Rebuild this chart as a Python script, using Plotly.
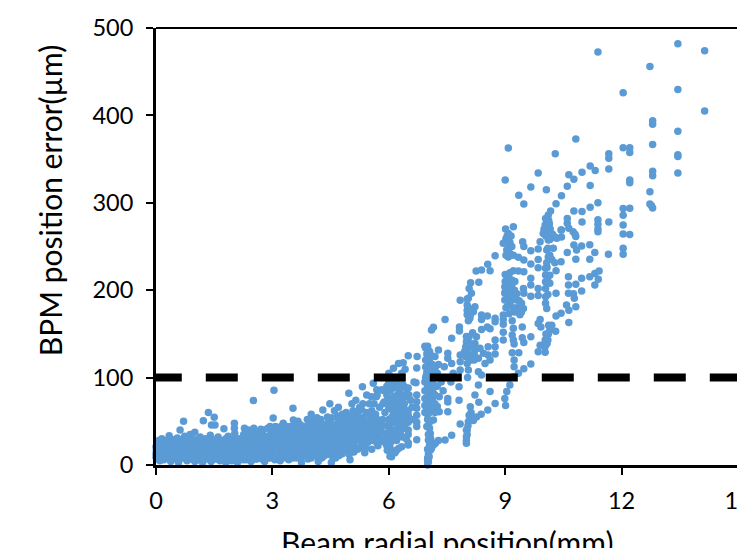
import plotly.graph_objects as go

# Values: (beam radial position mm, BPM position error um)
band_a = [(0.0,9),(0.0,13),(0.01,17),(0.0,21),(0.02,25),(0.05,7),(0.06,15),(0.07,28),(0.1,5),(0.1,11),(0.12,19),(0.13,24),(0.15,30),
(0.2,6),(0.22,13),(0.2,22),(0.25,28),(0.3,8),(0.28,17),(0.34,33.6),(0.33,25),(0.38,4),(0.4,12),(0.42,20),(0.45,29),(0.5,7),(0.52,16),(0.5,24),
(0.55,31),(0.58,3),(0.6,11),(0.62,40),(0.6,20),(0.65,27),(0.7,8),(0.71,50),(0.72,15),(0.74,33),(0.75,23),(0.8,5),(0.82,12),(0.8,28),(0.85,19),
(0.88,35),(0.9,7),(0.92,24),(0.95,14),(1.0,37.6),(1.0,4),(1.02,29),(1.04,10),(1.05,20),(1.1,6),(1.12,16),(1.14,32),(1.16,25),(1.22,50.7),(1.2,3),
(1.22,11),(1.25,20),(1.28,30),(1.35,60),(1.32,7),(1.34,15),(1.36,25),(1.4,34),(1.43,45.7),(1.42,4),(1.45,11),(1.47,19),(1.5,54.7),(1.5,28),
(1.52,45.7),(1.55,7),(1.56,15),(1.58,23),(1.6,32),(1.65,5),(1.66,12),(1.7,20),(1.72,28),(1.75,41.6),(1.78,8),(1.8,3),(1.82,16),(1.84,25),(1.86,33),
(1.9,11),(1.92,20),(1.95,5),(1.97,29),(2.0,14),(2.02,47.8),(2.02,42),(2.03,36),(2.05,7),(2.08,23),(2.1,3),(2.12,17),(2.15,30),(2.18,10)]
band_b = [(2.2,24),(2.24,6),(2.26,35),(2.3,15),(2.33,28),(2.36,8),(2.38,40),(2.4,21),(2.45,4),(2.46,32),(2.5,12),(2.51,73.9),(2.52,42),(2.55,25),
(2.6,7),(2.62,17),(2.65,36),(2.68,29),(2.7,41),(2.72,11),(2.75,21),(2.8,4),(2.82,33),(2.85,15),(2.88,42),(2.9,25),(2.93,8),(2.96,37),(3.0,18),
(3.02,53.8),(3.04,85.4),(3.03,30),(3.06,6),(3.08,44),(3.1,12),(3.14,24),(3.16,36),(3.2,5),(3.22,16),(3.25,45),(3.28,47.8),(3.3,28),(3.32,10),
(3.36,38),(3.4,20),(3.42,6),(3.45,32),(3.48,44),(3.53,65),(3.54,51.6),(3.5,14),(3.55,26),(3.6,38),(3.62,8),(3.66,50),(3.68,19),(3.72,31),(3.75,3),
(3.78,44),(3.8,13),(3.84,24),(3.88,36),(3.9,52),(3.92,7),(3.95,17),(4.0,58),(4.0,30),(4.03,44),(4.05,11),(4.08,22),(4.12,37),(4.15,54),(4.18,4),
(4.2,16),(4.23,29),(4.28,47),(4.3,63),(4.32,10),(4.35,22),(4.38,38),(4.42,55),(4.45,14),(4.48,70),(4.5,30),(4.52,3),(4.55,46),(4.58,19),(4.6,62),
(4.63,8),(4.66,36),(4.7,66),(4.72,24),(4.76,53),(4.8,13),(4.83,42),(4.87,30),(4.9,60),(4.92,18),(4.97,82),(4.96,48),(5.0,6),(5.02,26)]
band_c = [(5.05,70),(5.08,38),(5.1,15),(5.15,74),(5.14,55),(5.18,30),(5.22,44),(5.26,20),(5.3,63),(5.32,89.6),(5.34,36),(5.38,14),(5.43,80),
(5.42,50),(5.46,26),(5.5,70),(5.52,40),(5.56,18),(5.6,93.4),(5.6,55),(5.64,32),(5.68,46),(5.7,80),(5.72,22),(5.76,66),(5.8,40),(5.82,100),
(5.84,52),(5.86,27),(5.88,85),(5.9,60),(5.92,36),(5.94,23),(5.96,17),(5.95,45),(5.97,75),(6.0,105),(6.0,95),(6.0,70),(6.0,52),(6.02,30),(6.04,85),
(6.07,9.5),(6.06,40),(6.1,62),(6.12,110.6),(6.12,98),(6.14,78),(6.16,48),(6.2,17),(6.18,88),(6.22,34),(6.25,116),(6.24,68),(6.26,100),(6.28,55),
(6.3,80),(6.33,21),(6.34,42),(6.37,117),(6.36,92),(6.4,70),(6.42,109.5),(6.42,56),(6.45,30),(6.46,82),(6.5,125),(6.5,88),(6.52,80),(6.5,62),(6.5,57),
(6.5,49),(6.5,25.5),(6.56,74),(6.6,66),(6.62,52),(6.65,95),(6.7,94),(6.72,111),(6.73,124),(6.72,80),(6.72,72.5),(6.72,65),(6.72,57),(6.72,49),
(6.72,44),(6.72,29)]
band_d = [(0.03,11),(0.03,19),(0.04,27),(0.08,9),(0.09,17),(0.08,22),(0.14,8),(0.16,15),(0.17,26),(0.24,9),(0.25,18),(0.26,24),(0.3,12),(0.32,21),
(0.36,9),(0.37,15),(0.38,28),(0.44,8),(0.45,16),(0.46,23),(0.5,12),(0.54,20),(0.56,27),(0.6,7),(0.63,15),(0.66,23),(0.68,11),(0.7,30),(0.76,8),
(0.78,18),(0.8,22),(0.84,9),(0.86,14),(0.87,26),(0.9,31),(0.94,10),(0.96,19),(1.0,13),(1.0,24),(1.06,8),(1.07,15),(1.09,27),(1.12,11),(1.15,21),
(1.18,7),(1.2,15),(1.2,26),(1.26,11),(1.28,18),(1.3,24),(1.36,11),(1.38,19),(1.38,29),(1.42,15),(1.45,24),(1.48,7),(1.5,13),(1.52,20),(1.55,29),
(1.58,10),(1.6,17),(1.62,26),(1.68,8),(1.7,15),(1.72,24),(1.76,12),(1.78,19),(1.8,30),(1.82,7),(1.86,13),(1.88,20),(1.9,28),(1.94,9),(1.96,16),
(1.98,24),(2.02,11),(2.04,20),(2.06,28),(2.1,8),(2.12,13),(2.14,23),(2.18,18),(2.2,14),(2.22,30)]
band_e = [(2.25,11),(2.25,19),(2.3,24),(2.32,6),(2.35,33),(2.38,14),(2.42,27),(2.44,10),(2.47,18),(2.5,23),(2.53,36),(2.56,7),(2.58,15),(2.6,29),
(2.65,11),(2.66,23),(2.7,17),(2.72,33),(2.76,6),(2.78,27),(2.8,12),(2.84,21),(2.88,8),(2.9,31),(2.92,16),(2.96,25),(3.0,10),(3.02,40),(3.05,22),
(3.08,14),(3.1,33),(3.12,27),(3.18,11),(3.2,19),(3.23,38),(3.27,8),(3.28,24),(3.3,32),(3.35,15),(3.38,44),(3.38,26),(3.42,12),(3.45,21),(3.5,36),
(3.52,8),(3.53,44),(3.58,18),(3.6,28),(3.65,13),(3.67,38),(3.7,23),(3.72,46),(3.75,9),(3.8,30),(3.82,19),(3.85,44),(3.88,12),(3.92,26),(3.95,36),
(4.0,8),(4.0,20),(4.03,50),(4.08,15),(4.1,30),(4.12,44),(4.16,10),(4.18,23),(4.2,38),(4.25,52),(4.27,8),(4.3,17),(4.33,33),(4.38,26),(4.4,46),
(4.42,12),(4.47,20),(4.5,38),(4.53,54),(4.56,8),(4.6,28),(4.62,16),(4.65,46),(4.7,37),(4.72,11),(4.75,22),(4.8,30),(4.8,58),(4.85,18),(4.88,48),
(4.9,38),(4.95,26),(4.98,12),(5.0,34),(5.03,56),(5.06,20),(5.1,44),(5.12,27),(5.18,37),(5.2,18),(5.25,52),(5.27,30),(5.3,24),(5.35,44),(5.4,20),
(5.42,33),(5.47,58),(5.5,28)]
band_f = [(5.6,28),(5.6,36),(5.6,45),(5.6,52),(5.62,70),(5.69,86),(5.7,25),(5.7,34),(5.7,43),(5.7,52),(5.82,86),(5.8,30),(5.8,47),(5.85,70),(5.95,90),
(5.95,80),(6.0,65),(6.02,45),(6.0,38),(6.03,20),(6.03,10),(6.08,100),(6.08,90),(6.08,70),(6.08,55),(6.08,32),(6.1,16),(6.16,14),(6.16,60),(6.16,40),
(6.16,100),(6.22,80),(6.25,19),(6.25,90),(6.25,50),(6.3,62),(6.3,38),(6.33,105),(6.35,75),(6.37,50),(6.4,42),(6.4,64),(6.42,89),(6.45,55),(6.5,23),
(6.5,40),(6.5,35)]
band_g = [(2.28,42),(2.44,38),(2.57,33),(2.7,36),(2.76,40),(2.94,44),(2.98,30),(3.07,38),(3.15,30),(3.15,43),(3.22,26),(3.24,33),(3.34,20),(3.35,33),
(3.43,38),(3.47,27),(3.5,22),(3.56,34),(3.6,46),(3.63,24),(3.68,32),(3.74,17),(3.75,37),(3.83,36),(3.86,28),(3.9,20),(3.95,45),(3.98,12),(4.02,25),
(4.05,37),(4.1,52),(4.14,18),(4.15,30),(4.22,46),(4.27,24),(4.3,40),(4.35,15),(4.4,32),(4.45,52),(4.47,42),(4.52,25),(4.55,15),(4.56,33),(4.6,45),
(4.65,22),(4.68,56),(4.72,30),(4.75,44),(4.78,18),(4.83,52),(4.87,25),(4.92,42),(4.95,56),(5.02,44),(5.05,30),(5.08,62),(5.1,22),(5.16,46),(5.2,60),
(5.25,38),(5.3,48),(5.33,54),(5.38,28),(5.42,60),(5.47,38),(5.52,50),(5.54,30),(5.56,62),(5.65,40),(5.66,58),(5.75,28),(5.78,38),(5.75,48),
(3.9,41),(4.08,42),(4.24,34),(4.44,28),(4.6,38),(4.76,36),(4.9,30),(5.08,50),(5.13,34),(5.3,40),(5.45,44),(5.58,44),(5.0,50),(5.2,50),(4.7,50),
(5.33,70),(5.25,66),(5.55,78),(5.68,78),(5.9,28),(5.88,72),(6.05,76),(6.05,48),(6.05,26),(6.12,34),(6.12,68),(6.2,95),(6.2,72),(6.2,52),(6.2,28),
(6.28,44),(6.28,72),(6.28,86),(6.35,60),(6.35,32),(6.42,78),(6.42,48)]
col_7 = [(7.0,136),(7.02,131),(6.98,127),(7.0,121),(7.0,113),(6.98,106),(7.0,97),(6.93,136),(6.93,95),(6.93,85),(6.93,76),(6.93,68),(6.93,60),(7.05,104),
(7.05,90),(7.05,80),(7.05,70),(7.05,60),(7.19,124),(7.19,100),(7.19,90),(7.19,80),(7.19,70),(7.19,60),(7.12,115),(7.12,85),(7.12,75),(7.12,65),
(7.28,131.6),(7.28,115),(7.3,78),(7.25,67),(7.3,61),(7.43,112.5),(7.35,95),(7.4,85),(7.52,127.8),(7.52,122),(7.62,116),(7.66,105),(7.6,95),(7.52,76),
(7.52,72),(7.52,61),(7.81,89.6),(7.81,74),(7.84,47),(7.62,34),(7.45,28.6),(7.28,28),(7.15,23),(7.07,17),(7.04,9.5),(7.02,3.8),(7.0,0),(6.98,44),
(7.06,49.6),(7.15,51.5),(7.07,36),(7.02,28.6),(7.45,166.6),(7.15,157.5),(7.1,154.5),(7.62,145),(7.82,158),(7.82,153.3),
(6.95,134),(7.0,126),(6.95,120),(7.05,118),(6.95,112),(7.05,110),(6.97,103),(7.0,90),(7.0,85),(7.0,78),(7.0,72),(7.0,65),(7.0,58),(6.95,100),(7.1,110),
(7.1,97),(7.15,105),(7.15,92),(7.15,82),(7.2,112),(7.25,105),(7.25,90),(7.1,125),(7.05,130),(7.0,52),(7.05,42),(7.02,35),(7.08,30),(7.05,23),(7.0,18),
(7.02,13),(7.0,8),(7.0,5),(7.1,23),(7.2,25),(7.1,19)]
col_8 = [(8.11,208.6),(8.32,209),(8.07,202),(8.13,196.4),(8.05,190.7),(7.84,188.4),(8.02,183),(8.02,177),(8.05,171.6),(8.09,168),(8.22,181),(8.18,175.4),
(8.39,171.6),(8.54,170.5),(8.74,167.8),(8.74,164),(8.39,166.6),(8.54,158),(8.61,156),(8.39,155),(8.16,151.4),(8.07,147),(8.26,146.8),(8.0,141),
(7.98,135),(7.95,129.7),(7.98,124),(8.02,116),(8.05,108.7),(8.22,139),(8.35,133.5),(8.44,127.8),(8.56,135.4),(8.74,143),(8.74,135.4),(8.74,127),
(8.56,126),(8.61,120),(8.48,116),(8.31,122),(8.13,126),(7.84,126),(7.84,118),(7.84,108.7),(8.31,106.8),(8.39,103),(8.25,222),(8.39,223),(8.61,222.3),
(8.55,229.6),(8.74,239.5),(9.12,91.5),(9.04,84),(8.99,76),(9.01,68),(8.74,70.5),(8.55,63),(8.38,58),(8.26,55),(8.18,51),(8.05,49.6),(8.02,40),
(8.0,32.4),(8.0,24.8),(8.07,57),(8.1,66.7),(8.22,80),(8.31,91.5),(8.32,71.7),(8.61,84),
(8.0,147),(8.02,132),(8.08,140),(8.12,135),(8.12,120),(8.05,125),(8.2,128),(8.2,120),(8.25,133),(8.03,100),(8.02,190),(8.05,180),(8.1,178),(8.02,172),
(8.05,165),(8.1,172),(8.0,40),(8.0,28),(8.02,35),(8.04,45),(8.1,55),(8.12,60),(8.15,53)]
col_9 = [(9.21,272.7),(9.01,270),(9.08,265),(9.02,259),(8.95,253.6),(9.08,251.7),(9.04,246),(9.12,242),(9.21,240),(9.02,240),(9.17,250),(9.45,255.5),
(9.48,250),(9.66,245.2),(9.85,247),(9.9,255.5),(10.11,257.4),(9.85,235),(9.66,230),(9.48,234.5),(9.34,237.6),(9.21,222.3),(9.34,222),(9.48,221),
(9.08,216),(9.04,209.8),(8.99,204),(8.99,196.4),(8.99,188.8),(9.02,180),(9.17,211.7),(9.17,204),(9.17,196.4),(9.17,188.8),(9.29,188.8),(9.42,185),
(9.47,179),(9.42,175),(9.25,175),(9.47,202),(9.48,196.4),(9.66,213.6),(9.66,206),(9.66,193),(9.85,225.8),(9.85,202),(9.85,194),(9.1,173),(8.95,171.6),
(8.95,166.6),(8.95,161),(9.18,165),(9.21,156.4),(9.44,158),(8.95,151.8),(8.95,143),(9.18,148.7),(9.21,143),(9.23,138.4),(9.44,145.7),(9.48,140.3),
(9.66,146.8),(9.9,166.6),(9.85,162),(9.92,158),(9.9,137),(9.85,129.7),(9.18,128.5),(9.35,128.5),(9.23,120),(9.23,112.5),(9.66,115.6),(9.48,110),
(9.34,105),(9.21,101),(9.08,362.7),(9.0,326),(9.35,308.5),(9.48,298.6),(9.66,318),(9.85,334),(10.06,315),
(9.0,218),(9.06,210),(9.06,200),(9.06,190),(9.0,210),(9.0,198),(9.06,182),(9.12,205),(9.12,195),(9.12,185),(9.12,212),(9.12,220),(9.25,210),(9.2,180),
(9.3,180),(9.35,178),(9.38,172),(9.05,258),(9.12,255),(9.05,262),(9.15,262),(9.08,238),(9.24,200),(9.24,192),(9.3,196),(9.36,188)]
col_10 = [(10.17,290.6),(10.11,286),(10.07,280),(10.03,274.6),(10.0,269.6),(10.03,265),(10.15,263),(10.28,261),(10.45,261),(10.44,269),(9.98,265),(10.07,268),
(10.33,259.3),(10.07,246),(10.24,248),(10.11,238),(10.2,235),(10.07,231.5),(10.28,231.5),(10.44,232.6),(10.04,225),(10.31,222.3),(10.04,217.4),
(10.04,209.8),(10.04,202),(10.04,192.6),(10.04,185),(10.07,179),(10.15,217),(10.15,208),(10.31,196.4),(10.31,170.5),(10.44,173.5),(10.2,160),(10.15,154.5),
(10.11,149.5),(10.3,153),(10.03,143),(9.98,137),(10.08,139),(10.03,129),(10.29,356),(10.31,299),(10.45,308),(10.6,319),(10.64,332),(10.77,327),(10.82,373),
(10.6,282),(10.6,276.5),(10.45,269),(10.64,271),(10.75,267),(10.8,264),(10.82,261.3),(10.77,251.7),(10.6,243),(10.84,246),(10.82,235.3),(10.63,215.5),
(10.63,206),(10.82,206.7),(10.63,196.4),(10.76,196),(10.78,190.7),(10.82,181),(10.58,183),(10.64,177),(10.64,163),(10.77,290.5),(10.98,290),(10.98,278),
(10.98,335),(10.97,250.6),(10.97,213.6),(10.97,199),
(10.1,272),(10.08,275),(10.02,270),(10.12,280),(10.05,262),(10.2,260),(10.15,258),(10.1,248),(10.15,240),(10.08,226),(10.1,210),(10.1,195),(10.02,135),
(10.1,143),(10.05,150),(10.12,160),(10.04,137),(10.14,276),(10.08,262),(10.16,270),(10.04,282),(10.22,264)]
col_11 = [(11.39,472.5),(11.19,342),(11.32,337),(11.19,319.7),(11.39,300),(11.19,295),(11.39,280.6),(11.39,275.6),(11.39,270),(11.39,267),(11.31,243),
(11.18,252),(11.18,235.3),(11.42,222),(11.31,219),(11.18,215.5),(11.4,212.4),(11.31,206),(11.67,356),(11.67,351),(11.67,338.7),(11.67,278),(11.66,241),
(12.04,426),(12.04,363),(12.21,363),(12.21,357.5),(12.21,326),(12.21,323),(12.04,293.5),(12.21,293.8),(12.04,285.7),(12.04,274.6),(12.04,264.4),(12.21,263.7),
(12.04,248),(12.04,241),(12.73,456),(12.8,394),(12.8,390),(12.8,366.6),(12.8,336),(12.8,331),(12.73,312.7),(12.73,298.6),(12.77,296.6),(12.8,294),
(13.45,482),(13.45,429.5),(13.45,382),(13.45,355),(13.45,353),(13.45,334),(14.14,474),(14.14,405)]

threshold_x = [-0.16, 15]
threshold_y = [100, 100]
x_ticks = [0, 3, 6, 9, 12, 15]
y_ticks = [0, 100, 200, 300, 400, 500]

points = band_a + band_b + band_c + band_d + band_e + band_f + band_g + col_7 + col_8 + col_9 + col_10 + col_11
FONT = "Lato"
TICK = dict(family=FONT, size=23.5, color="black")
TITLE = dict(family=FONT, size=30, color="black")
fig = go.Figure()
fig.add_trace(go.Scatter(x=[p[0] for p in points], y=[p[1] for p in points], mode="markers",
                         marker=dict(color="#5b9bd5", size=7.5, line=dict(width=0)), cliponaxis=False))
fig.add_trace(go.Scatter(x=threshold_x, y=threshold_y, mode="lines", cliponaxis=False,
                         line=dict(color="black", width=8, dash="32px,24px")))
axis = dict(showgrid=False, zeroline=False, showline=True, linecolor="black", linewidth=3, ticks="outside",
            ticklen=7, tickwidth=2, tickcolor="black", tickfont=TICK)
fig.update_layout(
    # The figure runs past the 737 px window so the last tick label is cut by the window edge, as in the reference.
    width=778, height=548, autosize=False, showlegend=False, plot_bgcolor="white", paper_bgcolor="white",
    margin=dict(l=156, r=40, t=28, b=83),
    xaxis=dict(axis, range=[0, 15], tickvals=x_ticks, ticktext=[str(v) for v in x_ticks], ticklabelstandoff=6),
    yaxis=dict(axis, range=[0, 500], tickvals=y_ticks, ticktext=[str(v) for v in y_ticks], ticklabelstandoff=8),
    shapes=[dict(type="line", xref="paper", yref="paper", x0=0, x1=1, y0=1, y1=1, line=dict(color="black", width=2))],
    annotations=[
        dict(text="BPM position error(µm)", xref="paper", yref="paper", x=-0.182, y=0.606, textangle=-90,
             showarrow=False, font=TITLE, xanchor="center", yanchor="middle"),
        dict(text="Beam radial position(mm)", xref="paper", yref="paper", x=0.5, y=-0.13,
             showarrow=False, font=TITLE, xanchor="center", yanchor="top"),
    ],
)
fig.write_html("out.html", config=dict(displayModeBar=False),
               post_script="document.body.style.margin='0';document.documentElement.style.overflow='hidden';document.body.style.overflow='hidden';")
